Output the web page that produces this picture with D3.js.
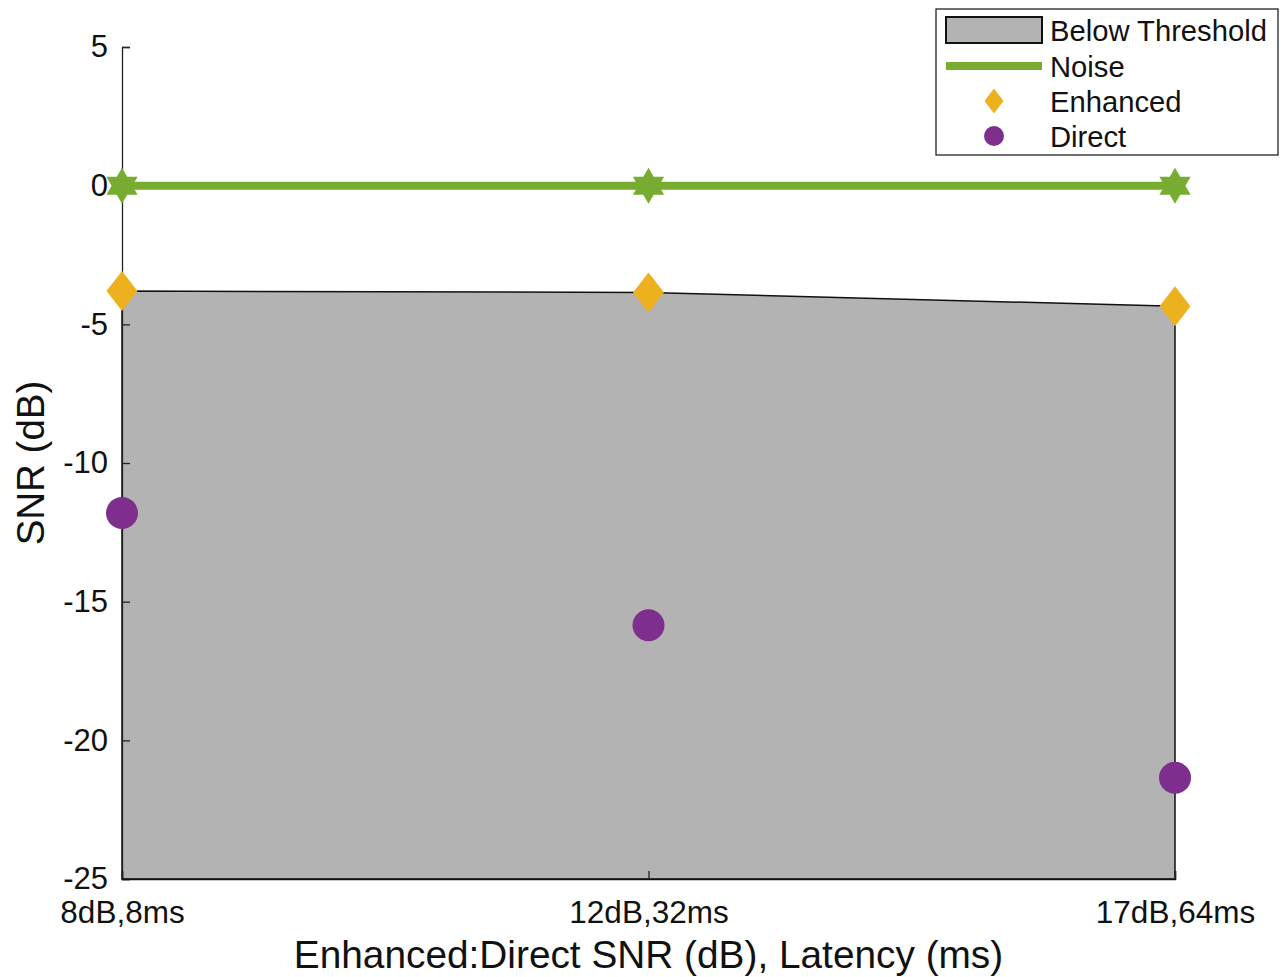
<!DOCTYPE html>
<html>
<head>
<meta charset="utf-8">
<script src="https://cdn.jsdelivr.net/npm/d3@7"></script>
<style>
  html, body { margin: 0; padding: 0; background: #fff; }
  svg { display: block; font-family: "Liberation Sans", Arial, sans-serif; }
</style>
</head>
<body>
<svg id="chart" width="1287" height="977"></svg>
<script>
// Conditions: enhanced-to-direct SNR and latency
const categories = ["8dB,8ms", "12dB,32ms", "17dB,64ms"];
const noiseSNR = [0, 0, 0];
const enhancedSNR = [-3.8, -3.85, -4.35];
const directSNR = [-11.8, -15.85, -21.35];
const yTicks = [5, 0, -5, -10, -15, -20, -25];

const colors = {
  area: "#b3b3b3",
  noise: "#77ac30",
  enhanced: "#edb120",
  direct: "#7e2f8e"
};

const svg = d3.select("#chart");
const margin = { left: 122, right: 112, top: 47, bottom: 98 };
const W = 1287, H = 977;

const x = d3.scalePoint().domain(categories).range([margin.left, W - margin.right]);
const y = d3.scaleLinear().domain([-25, 5]).range([H - margin.bottom, margin.top]);

// Shaded region below the enhanced threshold
const areaGen = d3.area()
  .x((d, i) => x(categories[i]))
  .y0(y(-25))
  .y1(d => y(d));
svg.append("path")
  .datum(enhancedSNR)
  .attr("d", areaGen)
  .attr("fill", colors.area)
  .attr("stroke", "none");

// Outline of the shaded region
const outline = [
  [categories[0], -25],
  ...enhancedSNR.map((v, i) => [categories[i], v]),
  [categories[2], -25]
];
svg.append("path")
  .attr("d", d3.line().x(d => x(d[0])).y(d => y(d[1]))(outline) + "Z")
  .attr("fill", "none")
  .attr("stroke", "#111")
  .attr("stroke-width", 1.5);

// Y axis
const yAxis = d3.axisLeft(y).tickValues(yTicks).tickSize(-8).tickPadding(14)
  .tickFormat(d => String(d));
const gy = svg.append("g")
  .attr("transform", `translate(${margin.left},0)`)
  .call(yAxis);
gy.select(".domain").attr("stroke", "#222").attr("stroke-width", 1.3);
gy.selectAll(".tick line").attr("stroke", "#222").attr("stroke-width", 1.3);
gy.selectAll(".tick text")
  .attr("font-size", 31)
  .attr("font-family", "Liberation Sans, Arial, sans-serif")
  .attr("fill", "#111");

// X axis
const xAxis = d3.axisBottom(x).tickSize(-8).tickPadding(22);
const gx = svg.append("g")
  .attr("transform", `translate(0,${y(-25)})`)
  .call(xAxis);
gx.select(".domain").attr("stroke", "#111").attr("stroke-width", 1.5);
gx.selectAll(".tick line").attr("stroke", "#222").attr("stroke-width", 1.3);
gx.selectAll(".tick text")
  .attr("font-size", 31.5)
  .attr("font-family", "Liberation Sans, Arial, sans-serif")
  .attr("fill", "#111");

// Axis titles
svg.append("text")
  .attr("x", (x(categories[0]) + x(categories[2])) / 2)
  .attr("y", 968)
  .attr("text-anchor", "middle")
  .attr("font-size", 38.8)
  .attr("fill", "#111")
  .text("Enhanced:Direct SNR (dB), Latency (ms)");

svg.append("text")
  .attr("transform", `translate(44,${(y(-25) + y(5)) / 2}) rotate(-90)`)
  .attr("text-anchor", "middle")
  .attr("font-size", 38.5)
  .attr("fill", "#111")
  .text("SNR (dB)");

// Noise line with hexagram markers
svg.append("path")
  .datum(noiseSNR)
  .attr("d", d3.line().x((d, i) => x(categories[i])).y(d => y(d)))
  .attr("fill", "none")
  .attr("stroke", colors.noise)
  .attr("stroke-width", 8);

function hexagram(r) {
  const pts = [];
  for (let k = 0; k < 12; k++) {
    const a = -Math.PI / 2 + k * Math.PI / 6;
    const rr = k % 2 === 0 ? r : r * 0.577;
    pts.push([rr * Math.cos(a), rr * Math.sin(a)]);
  }
  return "M" + pts.map(p => p.join(",")).join("L") + "Z";
}

svg.append("g").selectAll("path")
  .data(noiseSNR)
  .join("path")
  .attr("transform", (d, i) => `translate(${x(categories[i])},${y(d)})`)
  .attr("d", hexagram(18))
  .attr("fill", colors.noise);

// Enhanced diamonds
const diamond = (w, h) => `M0,${-h}L${w},0L0,${h}L${-w},0Z`;
svg.append("g").selectAll("path")
  .data(enhancedSNR)
  .join("path")
  .attr("transform", (d, i) => `translate(${x(categories[i])},${y(d)})`)
  .attr("d", diamond(15.5, 20))
  .attr("fill", colors.enhanced);

// Direct circles
svg.append("g").selectAll("circle")
  .data(directSNR)
  .join("circle")
  .attr("cx", (d, i) => x(categories[i]))
  .attr("cy", d => y(d))
  .attr("r", 16)
  .attr("fill", colors.direct);

// Legend
const lg = svg.append("g").attr("transform", "translate(936,9)");
lg.append("rect")
  .attr("width", 342).attr("height", 146)
  .attr("fill", "#fff").attr("stroke", "#222").attr("stroke-width", 1.3);

const legendRows = [
  { label: "Below Threshold", type: "area", cy: 21 },
  { label: "Noise", type: "line", cy: 57 },
  { label: "Enhanced", type: "diamond", cy: 92 },
  { label: "Direct", type: "circle", cy: 127 }
];
legendRows.forEach(r => {
  if (r.type === "area") {
    lg.append("rect").attr("x", 10).attr("y", r.cy - 13).attr("width", 96).attr("height", 26)
      .attr("fill", colors.area).attr("stroke", "#111").attr("stroke-width", 2);
  } else if (r.type === "line") {
    lg.append("line").attr("x1", 10).attr("x2", 106).attr("y1", r.cy).attr("y2", r.cy)
      .attr("stroke", colors.noise).attr("stroke-width", 8);
  } else if (r.type === "diamond") {
    lg.append("path").attr("transform", `translate(58,${r.cy})`)
      .attr("d", diamond(9.5, 12.5)).attr("fill", colors.enhanced);
  } else {
    lg.append("circle").attr("cx", 58).attr("cy", r.cy).attr("r", 10).attr("fill", colors.direct);
  }
  lg.append("text")
    .attr("x", 114).attr("y", r.cy + 11)
    .attr("font-size", 29.2).attr("fill", "#111")
    .text(r.label);
});
</script>
</body>
</html>
